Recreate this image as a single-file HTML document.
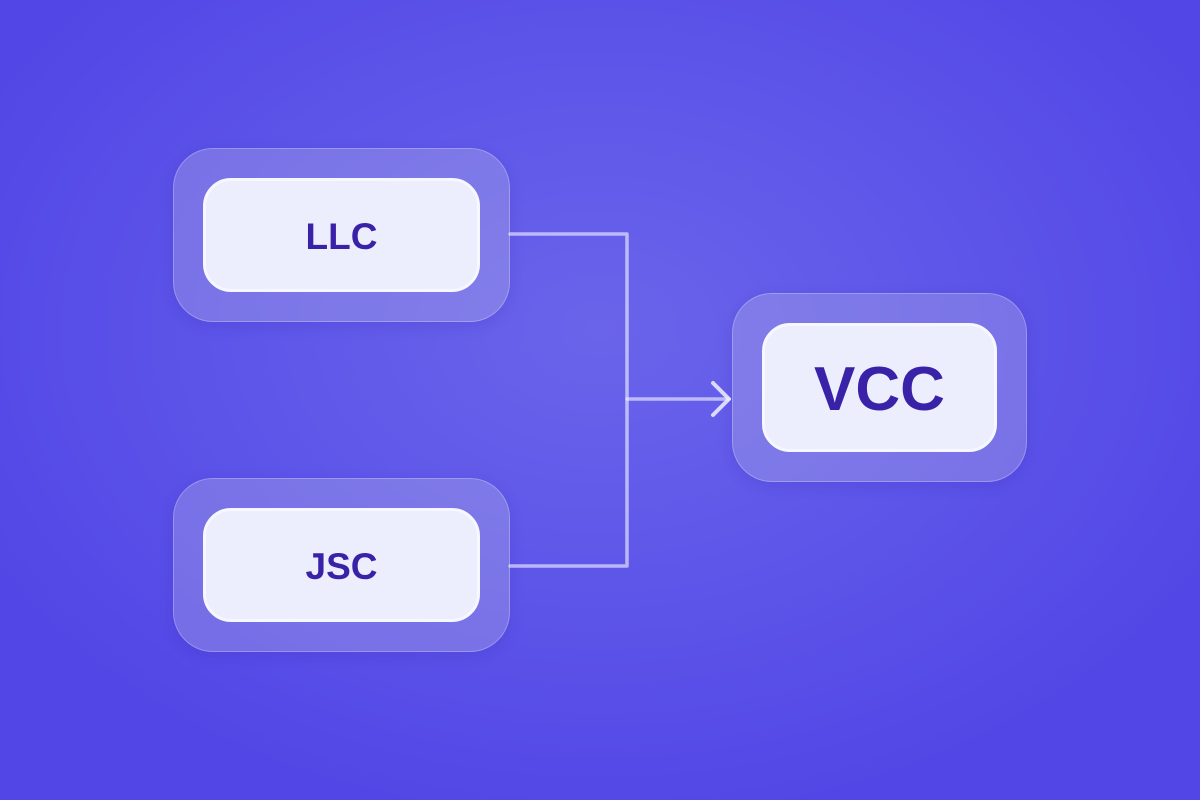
<!DOCTYPE html>
<html><head><meta charset="utf-8"><style>
html,body{margin:0;padding:0}
body{width:1200px;height:800px;overflow:hidden;background:radial-gradient(ellipse 700px 500px at 600px 330px,#6a64ea 0%,#5e56e9 50%,#5246e6 100%);font-family:"Liberation Sans",sans-serif;position:relative}
.o{position:absolute;background:rgba(200,200,230,0.28);border:1.5px solid rgba(255,255,255,0.25);box-sizing:border-box;border-radius:40px;box-shadow:0 4px 14px rgba(40,30,160,0.15)}
.i{position:absolute;background:#eceefd;border:3px solid #f6f7ff;box-sizing:border-box;border-radius:28px;display:flex;align-items:center;justify-content:center;color:#3a22a8;font-weight:bold;padding-top:3px}
</style></head><body>
<div class="o" style="left:173px;top:148px;width:337px;height:174px"></div>
<div class="i" style="left:203px;top:178px;width:277px;height:114px;font-size:37px">LLC</div>
<div class="o" style="left:173px;top:478px;width:337px;height:174px"></div>
<div class="i" style="left:203px;top:508px;width:277px;height:114px;font-size:37px">JSC</div>
<div class="o" style="left:732px;top:293px;width:295px;height:189px"></div>
<div class="i" style="left:762px;top:323px;width:235px;height:129px;font-size:62px">VCC</div>
<svg width="1200" height="800" style="position:absolute;left:0;top:0">
<g fill="none" stroke="rgba(235,235,255,0.65)" stroke-width="3.5" stroke-linecap="round" stroke-linejoin="round">
<path d="M510 234 H627 V566 H510"/>
<path d="M627 399 H729"/>
</g>
<path d="M713 383 L729 399 L713 415" fill="none" stroke="rgba(240,240,255,0.85)" stroke-width="4" stroke-linecap="round" stroke-linejoin="round"/>
</svg>
</body></html>
